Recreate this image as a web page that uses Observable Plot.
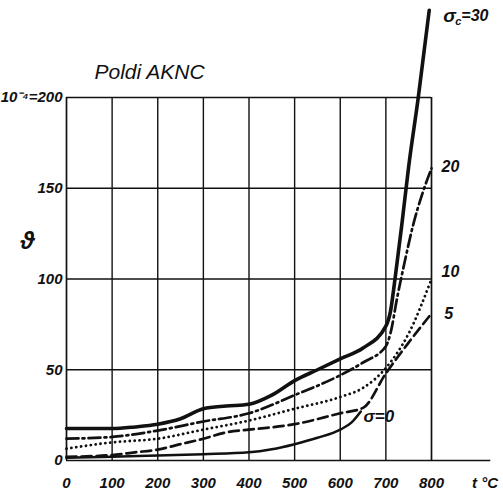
<!DOCTYPE html>
<html>
<head>
<meta charset="utf-8">
<script src="https://cdn.jsdelivr.net/npm/d3@7"></script>
<script src="https://cdn.jsdelivr.net/npm/@observablehq/plot@0.6"></script>
<style>
  html, body { margin: 0; padding: 0; background: #fff; }
  #chart svg { display: block; }
</style>
</head>
<body>
<div id="chart"></div>
<script>
// Temperature t (°C) sample points for each curve
const t0  = [0, 100, 200, 300, 400, 450, 500, 550, 600, 625, 645];
const v0  = [1.5, 2, 2.8, 3.5, 4.5, 6.2, 9, 12.5, 17, 21, 27];

const t5  = [0, 100, 150, 200, 250, 300, 350, 400, 500, 600, 650, 700, 750, 800];
const v5  = [2, 3, 4.5, 6, 9, 12, 15.5, 17, 20, 26, 29, 48, 65, 81];

const t10 = [0, 100, 200, 300, 400, 500, 600, 650, 700, 750, 800];
const v10 = [6.5, 10, 12, 17, 22, 28.5, 35, 40, 51, 70, 100];

const t20 = [0, 100, 200, 300, 400, 500, 600, 650, 700, 710, 725, 740, 760, 780, 800];
const v20 = [12, 13, 16.5, 21.5, 26, 36, 47, 54, 63, 70, 90, 108, 130, 147, 161];

const t30 = [0, 100, 150, 200, 250, 300, 350, 400, 450, 500, 550, 600, 650, 700, 710, 720, 735, 750, 771, 795];
const v30 = [17.6, 17.6, 18.5, 20, 23, 28.5, 30, 31, 36, 44, 50, 56, 62, 74, 82, 100, 130, 162, 200, 248];

const xTicks = [0, 100, 200, 300, 400, 500, 600, 700, 800];
const yTicks = [0, 50, 100, 150, 200];
const xGrid  = [100, 200, 300, 400, 500, 600, 700];
const yGrid  = [50, 100, 150, 200];

const toRows = (ts, vs) => ts.map((t, i) => ({t, v: vs[i]}));

const curveLabels = [
  {t: 822, v: 162, text: "20", size: 16},
  {t: 822, v: 104, text: "10", size: 16},
  {t: 828, v: 81,  text: "5",  size: 16},
  {t: 651, v: 24,  text: "σ=0", size: 17},
  {t: 889, v: -12.7, text: "t °C", size: 15},
  {t: -101, v: 121, text: "ϑ", size: 24}
];
const titleLabel = [{t: 182, v: 214, text: "Poldi AKNC"}];
const sigmaC = [{t: 826, v: 245}];

const font = "'Liberation Sans', Arial, sans-serif";
const ink = "#111";

const plot = Plot.plot({
  width: 503,
  height: 496,
  marginLeft: 66,
  marginRight: 72,
  marginTop: 97,
  marginBottom: 36,
  style: {fontFamily: font, fontStyle: "italic", fontWeight: "bold", fontSize: "15px", color: ink, background: "#fff"},
  x: {domain: [0, 800], ticks: xTicks, tickSize: 0, tickPadding: 17, label: null},
  y: {domain: [0, 200], ticks: yTicks, tickSize: 0, tickPadding: 4, label: null,
      tickFormat: d => d === 200 ? "10⁻⁴=200" : String(d)},
  marks: [
    Plot.ruleX(xGrid, {y1: 0, y2: 200, stroke: ink, strokeWidth: 1.4}),
    Plot.ruleY(yGrid, {x1: 0, x2: 800, stroke: ink, strokeWidth: 1.4}),
    Plot.ruleX([0, 800], {y1: 0, y2: 200, stroke: ink, strokeWidth: 1.7}),
    Plot.ruleY([0], {x1: 0, x2: 930, stroke: ink, strokeWidth: 1.7}),
    // σ = 0 (solid)
    Plot.line(toRows(t0, v0), {x: "t", y: "v", curve: "monotone-x", stroke: ink, strokeWidth: 2.5}),
    // σ = 5 (dashed)
    Plot.line(toRows(t5, v5), {x: "t", y: "v", curve: "monotone-x", stroke: ink, strokeWidth: 2.7, strokeDasharray: "10,5"}),
    // σ = 10 (dotted)
    Plot.line(toRows(t10, v10), {x: "t", y: "v", curve: "monotone-x", stroke: ink, strokeWidth: 2.8, strokeDasharray: "0.1,4.8", strokeLinecap: "round"}),
    // σ = 20 (dash-dot)
    Plot.line(toRows(t20, v20), {x: "t", y: "v", curve: "monotone-x", stroke: ink, strokeWidth: 2.7, strokeDasharray: "12,4,2,4"}),
    // σc = 30 (thick solid)
    Plot.line(toRows(t30, v30), {x: "t", y: "v", curve: "monotone-x", stroke: ink, strokeWidth: 3.6}),
    Plot.text(curveLabels, {x: "t", y: "v", text: "text", fontSize: "size", fill: ink, textAnchor: "start", fontWeight: "bold"}),
    Plot.text(titleLabel, {x: "t", y: "v", text: "text", fontSize: 21, fill: ink, textAnchor: "middle", fontWeight: "normal"}),
    // σc = 30 label: σ, subscript c, "=30"
    Plot.text(sigmaC, {x: "t", y: "v", text: () => "σ", fontSize: 19, textAnchor: "start", fill: ink}),
    Plot.text(sigmaC, {x: "t", y: "v", text: () => "c", fontSize: 11, textAnchor: "start", dx: 12, dy: 6, fill: ink}),
    Plot.text(sigmaC, {x: "t", y: "v", text: () => "=30", fontSize: 16, textAnchor: "start", dx: 18, fill: ink})
  ]
});

document.getElementById("chart").appendChild(plot);
</script>
</body>
</html>
